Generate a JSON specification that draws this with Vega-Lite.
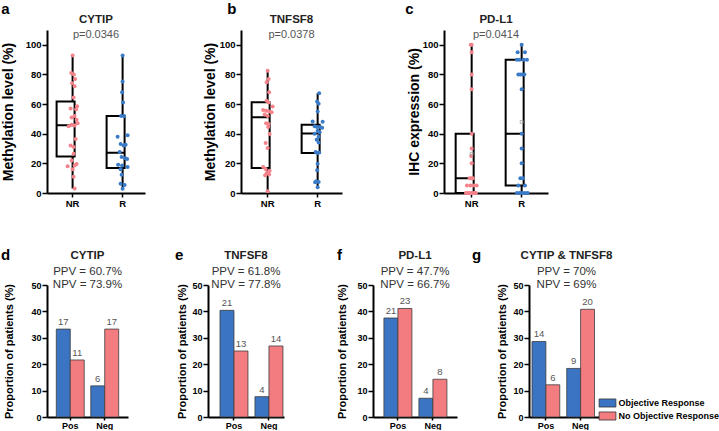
{
"$schema": "https://vega.github.io/schema/vega-lite/v6.json",
"padding": {"left": 0, "top": 2, "right": 0, "bottom": 0},
"background": "white",
"config": {
  "font": "Liberation Sans",
  "view": {"stroke": null},
  "axis": {"domainColor": "#000", "domainWidth": 2, "tickColor": "#000", "tickWidth": 1.5, "tickSize": 5, "labelFontWeight": "bold", "labelColor": "#000", "labelFontSize": 9.5, "labelPadding": 1, "titleFontWeight": "bold", "titleColor": "#000", "grid": false, "labelOverlap": false},
  "title": {"color": "#222"}
},
"datasets": {
  "a_pts": [
    {"group":"NR","v":92.8,"j":0},{"group":"NR","v":81,"j":-1.3},{"group":"NR","v":80,"j":1.3},{"group":"NR","v":77,"j":2.5},{"group":"NR","v":74,"j":-0.5},{"group":"NR","v":72,"j":2},{"group":"NR","v":64.5,"j":1},{"group":"NR","v":58.5,"j":4.5},{"group":"NR","v":57,"j":-2},{"group":"NR","v":56.5,"j":3.5},{"group":"NR","v":52,"j":2},{"group":"NR","v":51,"j":-1},{"group":"NR","v":49.5,"j":4},{"group":"NR","v":47,"j":5},{"group":"NR","v":46,"j":-1},{"group":"NR","v":45.5,"j":2},{"group":"NR","v":45,"j":-4},{"group":"NR","v":36.5,"j":3},{"group":"NR","v":32,"j":-2},{"group":"NR","v":31,"j":1},{"group":"NR","v":26.5,"j":1},{"group":"NR","v":22,"j":-1},{"group":"NR","v":19.5,"j":4},{"group":"NR","v":18.5,"j":2},{"group":"NR","v":18,"j":-5},{"group":"NR","v":16,"j":0},{"group":"NR","v":11,"j":1},{"group":"NR","v":3,"j":2},
    {"group":"R","v":92.8,"j":0},{"group":"R","v":75.3,"j":0},{"group":"R","v":68,"j":-0.5},{"group":"R","v":61,"j":0.5},{"group":"R","v":52,"j":-1.5},{"group":"R","v":52,"j":1.5},{"group":"R","v":38.9,"j":5},{"group":"R","v":38,"j":-5},{"group":"R","v":33,"j":-2},{"group":"R","v":32.5,"j":3},{"group":"R","v":32,"j":1},{"group":"R","v":27.6,"j":-3},{"group":"R","v":24.3,"j":-1},{"group":"R","v":23.5,"j":2.5},{"group":"R","v":23,"j":4.5},{"group":"R","v":19.1,"j":-4.5},{"group":"R","v":18.5,"j":-0.5},{"group":"R","v":17.5,"j":5},{"group":"R","v":16,"j":-2},{"group":"R","v":12.4,"j":-1},{"group":"R","v":6.3,"j":-2},{"group":"R","v":5.4,"j":2},{"group":"R","v":2.9,"j":0}
  ],
  "a_box": [
    {"group":"NR","lo":3,"q1":24.7,"med":45.8,"q3":61.8,"hi":92.8},
    {"group":"R","lo":2.9,"q1":16.9,"med":27.2,"q3":51.9,"hi":92.8}
  ],
  "b_pts": [
    {"group":"NR","v":82.5,"j":0},{"group":"NR","v":77,"j":1},{"group":"NR","v":74.8,"j":-1},{"group":"NR","v":68,"j":1.5},{"group":"NR","v":62.2,"j":-1},{"group":"NR","v":61,"j":1},{"group":"NR","v":58.4,"j":5},{"group":"NR","v":56,"j":-4.5},{"group":"NR","v":55.5,"j":-1.5},{"group":"NR","v":55,"j":1.5},{"group":"NR","v":54.5,"j":4},{"group":"NR","v":53,"j":-3},{"group":"NR","v":52,"j":0},{"group":"NR","v":47,"j":-1.5},{"group":"NR","v":46.5,"j":1},{"group":"NR","v":44.5,"j":0.5},{"group":"NR","v":39.8,"j":2},{"group":"NR","v":33.7,"j":-2},{"group":"NR","v":30.3,"j":0},{"group":"NR","v":17.5,"j":-4.5},{"group":"NR","v":16.2,"j":-2},{"group":"NR","v":15,"j":2},{"group":"NR","v":14,"j":0.5},{"group":"NR","v":13.5,"j":-1},{"group":"NR","v":12.5,"j":1.5},{"group":"NR","v":12,"j":-2.5},{"group":"NR","v":1.1,"j":0},
    {"group":"R","v":67.4,"j":1.5},{"group":"R","v":61.8,"j":-0.5},{"group":"R","v":60.2,"j":1},{"group":"R","v":55,"j":0},{"group":"R","v":48.3,"j":-5},{"group":"R","v":48,"j":5},{"group":"R","v":45,"j":-3},{"group":"R","v":44.5,"j":-0.5},{"group":"R","v":44.5,"j":2.5},{"group":"R","v":44,"j":4.5},{"group":"R","v":42,"j":0},{"group":"R","v":41,"j":2},{"group":"R","v":40,"j":-3},{"group":"R","v":38,"j":1},{"group":"R","v":36,"j":-1},{"group":"R","v":34,"j":1},{"group":"R","v":27.6,"j":-2},{"group":"R","v":27.3,"j":1.5},{"group":"R","v":27,"j":-0.5},{"group":"R","v":19.8,"j":0},{"group":"R","v":15.3,"j":-0.5},{"group":"R","v":7.9,"j":-1.5},{"group":"R","v":7.5,"j":1},{"group":"R","v":7.2,"j":-2.5},{"group":"R","v":3.8,"j":0}
  ],
  "b_box": [
    {"group":"NR","lo":1.1,"q1":16.9,"med":51.2,"q3":61.3,"hi":82.5},
    {"group":"R","lo":3.8,"q1":27,"med":40.2,"q3":46,"hi":67.4}
  ],
  "c_pts": [
    {"group":"NR","v":100,"j":0},{"group":"NR","v":100,"j":-1},{"group":"NR","v":95,"j":0},{"group":"NR","v":80,"j":0},{"group":"NR","v":70,"j":0},{"group":"NR","v":40,"j":0},{"group":"NR","v":30,"j":0},{"group":"NR","v":25,"j":-0.5},{"group":"NR","v":20,"j":0},{"group":"NR","v":10,"j":-2},{"group":"NR","v":10,"j":1.3},{"group":"NR","v":10,"j":0},{"group":"NR","v":5,"j":-4.7},{"group":"NR","v":5,"j":-1.3},{"group":"NR","v":5,"j":2},{"group":"NR","v":5,"j":5},{"group":"NR","v":0,"j":-5.7},{"group":"NR","v":0,"j":-2.3},{"group":"NR","v":0,"j":1},{"group":"NR","v":0,"j":4.3},{"group":"NR","v":0,"j":-4},{"group":"NR","v":0,"j":3},{"group":"NR","v":0,"j":0},
    {"group":"R","v":100,"j":0},{"group":"R","v":95,"j":-4},{"group":"R","v":95,"j":3.3},{"group":"R","v":90,"j":-4.7},{"group":"R","v":90,"j":-2},{"group":"R","v":90,"j":2},{"group":"R","v":90,"j":5.3},{"group":"R","v":80,"j":-3.3},{"group":"R","v":80,"j":-1.3},{"group":"R","v":80,"j":0.7},{"group":"R","v":80,"j":2.7},{"group":"R","v":70,"j":0},{"group":"R","v":40,"j":0},{"group":"R","v":30,"j":0},{"group":"R","v":20,"j":0},{"group":"R","v":10,"j":-1.3},{"group":"R","v":10,"j":1.3},{"group":"R","v":5,"j":-3.3},{"group":"R","v":5,"j":3.3},{"group":"R","v":0,"j":-4.7},{"group":"R","v":0,"j":-2},{"group":"R","v":0,"j":0.7},{"group":"R","v":0,"j":3.3},{"group":"R","v":0,"j":6}
  ],
  "c_box": [
    {"group":"NR","lo":0,"q1":0,"med":10,"q3":40,"hi":100,"mean":26.5},
    {"group":"R","lo":0,"q1":5,"med":40,"q3":90,"hi":100,"mean":48}
  ],
  "d_bar": [
    {"marker":"Pos","resp":"Objective Response","pct":33.3,"n":17},
    {"marker":"Pos","resp":"No Objective Response","pct":21.6,"n":11},
    {"marker":"Neg","resp":"Objective Response","pct":11.8,"n":6},
    {"marker":"Neg","resp":"No Objective Response","pct":33.3,"n":17}
  ],
  "e_bar": [
    {"marker":"Pos","resp":"Objective Response","pct":40.4,"n":21},
    {"marker":"Pos","resp":"No Objective Response","pct":25.0,"n":13},
    {"marker":"Neg","resp":"Objective Response","pct":7.7,"n":4},
    {"marker":"Neg","resp":"No Objective Response","pct":26.9,"n":14}
  ],
  "f_bar": [
    {"marker":"Pos","resp":"Objective Response","pct":37.5,"n":21},
    {"marker":"Pos","resp":"No Objective Response","pct":41.1,"n":23},
    {"marker":"Neg","resp":"Objective Response","pct":7.1,"n":4},
    {"marker":"Neg","resp":"No Objective Response","pct":14.3,"n":8}
  ],
  "g_bar": [
    {"marker":"Pos","resp":"Objective Response","pct":28.6,"n":14},
    {"marker":"Pos","resp":"No Objective Response","pct":12.2,"n":6},
    {"marker":"Neg","resp":"Objective Response","pct":18.4,"n":9},
    {"marker":"Neg","resp":"No Objective Response","pct":40.8,"n":20}
  ]
},
"resolve": {"scale": {"color": "independent", "x": "independent", "y": "independent", "xOffset": "independent"}, "legend": {"color": "independent"}},
"spacing": 40,
"vconcat": [
 {
  "spacing": 58,
  "resolve": {"scale": {"color": "independent", "x": "independent", "y": "independent", "xOffset": "independent"}, "legend": {"color": "independent"}},
  "hconcat": [
   {
    "title": {"text": "a", "anchor": "start", "frame": "bounds", "fontSize": 15, "fontWeight": "bold", "color": "#000", "offset": -3.5, "dx": 0},
    "resolve": {"scale": {"color": "independent", "x": "independent", "y": "independent", "xOffset": "independent"}, "legend": {"color": "independent"}},
    "vconcat": [
     {
      "width": 98, "height": 163,
      "title": {"text": "CYTIP", "subtitle": "p=0.0346", "fontSize": 11.5, "fontWeight": "bold", "subtitleFontSize": 11, "subtitleColor": "#555", "subtitlePadding": 4, "offset": -10, "anchor": "middle"},
      "layer": [
       {"data": {"name": "a_box"}, "mark": {"type": "rule", "color": "#000", "strokeWidth": 2},
        "encoding": {"x": {"field": "group", "type": "nominal", "sort": ["NR","R"], "title": null, "scale": {"paddingInner": 0.36, "paddingOuter": 0.16, "align": 0.6}, "axis": {"labelAngle": 0, "tickSize": 4}},
                     "y": {"field": "lo", "type": "quantitative", "title": "Methylation level (%)", "scale": {"domain": [0,110], "nice": false}, "axis": {"values": [0,20,40,60,80,100], "titleFontSize": 14, "titlePadding": 10}},
                     "y2": {"field": "hi"}}},
       {"data": {"name": "a_box"}, "mark": {"type": "bar", "fill": "white", "stroke": "#000", "strokeWidth": 2},
        "encoding": {"x": {"field": "group", "type": "nominal", "sort": ["NR","R"], "title": null, "axis": {"labelAngle": 0, "tickSize": 4}},
                     "y": {"field": "q3", "type": "quantitative", "title": "Methylation level (%)", "axis": {"values": [0,20,40,60,80,100], "titleFontSize": 14, "titlePadding": 10}}, "y2": {"field": "q1"}}},
       {"data": {"name": "a_box"}, "mark": {"type": "bar", "fill": null, "stroke": "#000", "strokeWidth": 2},
        "encoding": {"x": {"field": "group", "type": "nominal", "sort": ["NR","R"], "title": null, "axis": {"labelAngle": 0, "tickSize": 4}},
                     "y": {"field": "med", "type": "quantitative", "title": "Methylation level (%)", "axis": {"values": [0,20,40,60,80,100], "titleFontSize": 14, "titlePadding": 10}}, "y2": {"field": "med"}}},
       {"data": {"name": "a_pts"}, "mark": {"type": "circle", "size": 16, "opacity": 1},
        "encoding": {"x": {"field": "group", "type": "nominal", "sort": ["NR","R"], "title": null, "axis": {"labelAngle": 0, "tickSize": 4}},
                     "xOffset": {"field": "j", "type": "quantitative", "scale": {"domain": [-16,16], "range": [0,32]}},
                     "y": {"field": "v", "type": "quantitative", "title": "Methylation level (%)", "axis": {"values": [0,20,40,60,80,100], "titleFontSize": 14, "titlePadding": 10}},
                     "color": {"field": "group", "type": "nominal", "scale": {"domain": ["NR","R"], "range": ["#f4838b","#3a7bc8"]}, "legend": null}}}
      ]
     }
    ]
   },
   {
    "spacing": 63,
    "resolve": {"scale": {"color": "independent", "x": "independent", "y": "independent", "xOffset": "independent"}, "legend": {"color": "independent"}},
    "hconcat": [
     {
      "title": {"text": "b", "anchor": "start", "frame": "bounds", "fontSize": 15, "fontWeight": "bold", "color": "#000", "offset": -3.5, "dx": 24},
      "resolve": {"scale": {"color": "independent", "x": "independent", "y": "independent", "xOffset": "independent"}, "legend": {"color": "independent"}},
      "vconcat": [
       {
        "width": 101, "height": 163,
        "title": {"text": "TNFSF8", "subtitle": "p=0.0378", "fontSize": 11.5, "fontWeight": "bold", "subtitleFontSize": 11, "subtitleColor": "#555", "subtitlePadding": 4, "offset": -10, "anchor": "middle"},
        "layer": [
         {"data": {"name": "b_box"}, "mark": {"type": "rule", "color": "#000", "strokeWidth": 2},
          "encoding": {"x": {"field": "group", "type": "nominal", "sort": ["NR","R"], "title": null, "scale": {"paddingInner": 0.36, "paddingOuter": 0.19, "align": 0.56}, "axis": {"labelAngle": 0, "tickSize": 4}},
                       "y": {"field": "lo", "type": "quantitative", "title": "Methylation level (%)", "scale": {"domain": [0,110], "nice": false}, "axis": {"values": [0,20,40,60,80,100], "titleFontSize": 14, "titlePadding": 2}},
                       "y2": {"field": "hi"}}},
         {"data": {"name": "b_box"}, "mark": {"type": "bar", "fill": "white", "stroke": "#000", "strokeWidth": 2},
          "encoding": {"x": {"field": "group", "type": "nominal", "sort": ["NR","R"], "title": null, "axis": {"labelAngle": 0, "tickSize": 4}},
                       "y": {"field": "q3", "type": "quantitative", "title": "Methylation level (%)", "axis": {"values": [0,20,40,60,80,100], "titleFontSize": 14, "titlePadding": 2}}, "y2": {"field": "q1"}}},
         {"data": {"name": "b_box"}, "mark": {"type": "bar", "fill": null, "stroke": "#000", "strokeWidth": 2},
          "encoding": {"x": {"field": "group", "type": "nominal", "sort": ["NR","R"], "title": null, "axis": {"labelAngle": 0, "tickSize": 4}},
                       "y": {"field": "med", "type": "quantitative", "title": "Methylation level (%)", "axis": {"values": [0,20,40,60,80,100], "titleFontSize": 14, "titlePadding": 2}}, "y2": {"field": "med"}}},
         {"data": {"name": "b_pts"}, "mark": {"type": "circle", "size": 16, "opacity": 1},
          "encoding": {"x": {"field": "group", "type": "nominal", "sort": ["NR","R"], "title": null, "axis": {"labelAngle": 0, "tickSize": 4}},
                       "xOffset": {"field": "j", "type": "quantitative", "scale": {"domain": [-16,16], "range": [0,32]}},
                       "y": {"field": "v", "type": "quantitative", "title": "Methylation level (%)", "axis": {"values": [0,20,40,60,80,100], "titleFontSize": 14, "titlePadding": 2}},
                       "color": {"field": "group", "type": "nominal", "scale": {"domain": ["NR","R"], "range": ["#f4838b","#3a7bc8"]}, "legend": null}}}
        ]
       }
      ]
     },
     {
      "title": {"text": "c", "anchor": "start", "frame": "bounds", "fontSize": 15, "fontWeight": "bold", "color": "#000", "offset": -3.5, "dx": -2},
      "resolve": {"scale": {"color": "independent", "x": "independent", "y": "independent", "xOffset": "independent"}, "legend": {"color": "independent"}},
      "vconcat": [
       {
        "width": 104, "height": 163,
        "title": {"text": "PD-L1", "subtitle": "p=0.0414", "fontSize": 11.5, "fontWeight": "bold", "subtitleFontSize": 11, "subtitleColor": "#555", "subtitlePadding": 4, "offset": -10, "anchor": "middle"},
        "layer": [
         {"data": {"name": "c_box"}, "mark": {"type": "rule", "color": "#000", "strokeWidth": 2},
          "encoding": {"x": {"field": "group", "type": "nominal", "sort": ["NR","R"], "title": null, "scale": {"paddingInner": 0.36, "paddingOuter": 0.22, "align": 0.53}, "axis": {"labelAngle": 0, "tickSize": 4}},
                       "y": {"field": "lo", "type": "quantitative", "title": "IHC expression (%)", "scale": {"domain": [0,110], "nice": false}, "axis": {"values": [0,20,40,60,80,100], "titleFontSize": 14, "titlePadding": 1}},
                       "y2": {"field": "hi"}}},
         {"data": {"name": "c_box"}, "mark": {"type": "bar", "fill": "white", "stroke": "#000", "strokeWidth": 2},
          "encoding": {"x": {"field": "group", "type": "nominal", "sort": ["NR","R"], "title": null, "axis": {"labelAngle": 0, "tickSize": 4}},
                       "y": {"field": "q3", "type": "quantitative", "title": "IHC expression (%)", "axis": {"values": [0,20,40,60,80,100], "titleFontSize": 14, "titlePadding": 1}}, "y2": {"field": "q1"}}},
         {"data": {"name": "c_box"}, "mark": {"type": "bar", "fill": null, "stroke": "#000", "strokeWidth": 2},
          "encoding": {"x": {"field": "group", "type": "nominal", "sort": ["NR","R"], "title": null, "axis": {"labelAngle": 0, "tickSize": 4}},
                       "y": {"field": "med", "type": "quantitative", "title": "IHC expression (%)", "axis": {"values": [0,20,40,60,80,100], "titleFontSize": 14, "titlePadding": 1}}, "y2": {"field": "med"}}},
         {"data": {"name": "c_pts"}, "mark": {"type": "circle", "size": 16, "opacity": 1},
          "encoding": {"x": {"field": "group", "type": "nominal", "sort": ["NR","R"], "title": null, "axis": {"labelAngle": 0, "tickSize": 4}},
                       "xOffset": {"field": "j", "type": "quantitative", "scale": {"domain": [-16,16], "range": [0,32]}},
                       "y": {"field": "v", "type": "quantitative", "title": "IHC expression (%)", "axis": {"values": [0,20,40,60,80,100], "titleFontSize": 14, "titlePadding": 1}},
                       "color": {"field": "group", "type": "nominal", "scale": {"domain": ["NR","R"], "range": ["#f4838b","#3a7bc8"]}, "legend": null}}},
         {"data": {"name": "c_box"}, "mark": {"type": "point", "shape": "square", "size": 8, "filled": false, "color": "#a0a0a0", "strokeWidth": 0.8, "opacity": 1},
          "encoding": {"x": {"field": "group", "type": "nominal", "sort": ["NR","R"], "title": null, "axis": {"labelAngle": 0, "tickSize": 4}},
                       "y": {"field": "mean", "type": "quantitative", "title": "IHC expression (%)", "axis": {"values": [0,20,40,60,80,100], "titleFontSize": 14, "titlePadding": 1}}}}
        ]
       }
      ]
     }
    ]
   }
  ]
 },
 {
  "spacing": 46,
  "resolve": {"scale": {"color": "independent", "x": "independent", "y": "independent", "xOffset": "independent"}, "legend": {"color": "independent"}},
  "hconcat": [
   {
    "title": {"text": "d", "anchor": "start", "frame": "bounds", "fontSize": 15, "fontWeight": "bold", "color": "#000", "offset": -13, "dx": -3},
    "resolve": {"scale": {"color": "independent", "x": "independent", "y": "independent", "xOffset": "independent"}, "legend": {"color": "independent"}},
    "vconcat": [
     {
      "width": 81, "height": 132,
      "title": {"text": "CYTIP", "subtitle": ["PPV = 60.7%", "NPV = 73.9%"], "fontSize": 11.5, "fontWeight": "bold", "subtitleFontSize": 11.5, "subtitleColor": "#333", "subtitlePadding": 4.5, "subtitleLineHeight": 13.3, "offset": -10, "anchor": "middle"},
      "data": {"name": "d_bar"},
      "encoding": {
        "x": {"field": "marker", "type": "nominal", "sort": ["Pos","Neg"], "title": null, "scale": {"paddingInner": 0.19, "paddingOuter": 0.27, "align": 0.5}, "axis": {"labelAngle": 0, "labelFontSize": 9, "tickSize": 3}},
        "xOffset": {"field": "resp", "type": "nominal", "sort": ["Objective Response","No Objective Response"]},
        "y": {"field": "pct", "type": "quantitative", "title": "Proportion of patients (%)", "scale": {"domain": [0,50], "nice": false}, "axis": {"values": [0,10,20,30,40,50], "titleFontSize": 11, "titlePadding": 16, "labelFontSize": 9}}
      },
      "layer": [
        {"mark": {"type": "bar", "stroke": "#3d3d3d", "strokeWidth": 0.8}, "encoding": {"color": {"field": "resp", "type": "nominal", "scale": {"domain": ["Objective Response","No Objective Response"], "range": ["#3a74c2","#f27c80"]}, "legend": null}}},
        {"mark": {"type": "text", "baseline": "bottom", "dy": -2, "fontSize": 9.5, "color": "#555"}, "encoding": {"text": {"field": "n", "type": "quantitative"}}}
      ]
     }
    ]
   },
   {
    "spacing": 52,
    "resolve": {"scale": {"color": "independent", "x": "independent", "y": "independent", "xOffset": "independent"}, "legend": {"color": "independent"}},
    "hconcat": [
     {
      "title": {"text": "e", "anchor": "start", "frame": "bounds", "fontSize": 15, "fontWeight": "bold", "color": "#000", "offset": -13, "dx": -2},
      "resolve": {"scale": {"color": "independent", "x": "independent", "y": "independent", "xOffset": "independent"}, "legend": {"color": "independent"}},
      "vconcat": [
       {
        "width": 76, "height": 132,
        "title": {"text": "TNFSF8", "subtitle": ["PPV = 61.8%", "NPV = 77.8%"], "fontSize": 11.5, "fontWeight": "bold", "subtitleFontSize": 11.5, "subtitleColor": "#333", "subtitlePadding": 4.5, "subtitleLineHeight": 13.3, "offset": -10, "anchor": "middle"},
        "data": {"name": "e_bar"},
        "encoding": {
          "x": {"field": "marker", "type": "nominal", "sort": ["Pos","Neg"], "title": null, "scale": {"paddingInner": 0.2, "paddingOuter": 0.186, "align": 0.92}, "axis": {"labelAngle": 0, "labelFontSize": 9, "tickSize": 3}},
          "xOffset": {"field": "resp", "type": "nominal", "sort": ["Objective Response","No Objective Response"]},
          "y": {"field": "pct", "type": "quantitative", "title": "Proportion of patients (%)", "scale": {"domain": [0,50], "nice": false}, "axis": {"values": [0,10,20,30,40,50], "titleFontSize": 11, "titlePadding": 4, "labelFontSize": 9}}
        },
        "layer": [
          {"mark": {"type": "bar", "stroke": "#3d3d3d", "strokeWidth": 0.8}, "encoding": {"color": {"field": "resp", "type": "nominal", "scale": {"domain": ["Objective Response","No Objective Response"], "range": ["#3a74c2","#f27c80"]}, "legend": null}}},
          {"mark": {"type": "text", "baseline": "bottom", "dy": -2, "fontSize": 9.5, "color": "#555"}, "encoding": {"text": {"field": "n", "type": "quantitative"}}}
        ]
       }
      ]
     },
     {
      "spacing": 14,
      "resolve": {"scale": {"color": "independent", "x": "independent", "y": "independent", "xOffset": "independent"}, "legend": {"color": "independent"}},
      "hconcat": [
       {
        "title": {"text": "f", "anchor": "start", "frame": "bounds", "fontSize": 15, "fontWeight": "bold", "color": "#000", "offset": -13, "dx": 0},
        "resolve": {"scale": {"color": "independent", "x": "independent", "y": "independent", "xOffset": "independent"}, "legend": {"color": "independent"}},
        "vconcat": [
         {
          "width": 84, "height": 132,
          "title": {"text": "PD-L1", "subtitle": ["PPV = 47.7%", "NPV = 66.7%"], "fontSize": 11.5, "fontWeight": "bold", "subtitleFontSize": 11.5, "subtitleColor": "#333", "subtitlePadding": 4.5, "subtitleLineHeight": 13.3, "offset": -10, "anchor": "middle"},
          "data": {"name": "f_bar"},
          "encoding": {
            "x": {"field": "marker", "type": "nominal", "sort": ["Pos","Neg"], "title": null, "scale": {"paddingInner": 0.2, "paddingOuter": 0.3, "align": 0.52}, "axis": {"labelAngle": 0, "labelFontSize": 9, "tickSize": 3}},
            "xOffset": {"field": "resp", "type": "nominal", "sort": ["Objective Response","No Objective Response"]},
            "y": {"field": "pct", "type": "quantitative", "title": "Proportion of patients (%)", "scale": {"domain": [0,50], "nice": false}, "axis": {"values": [0,10,20,30,40,50], "titleFontSize": 11, "titlePadding": 9, "labelFontSize": 9}}
          },
          "layer": [
            {"mark": {"type": "bar", "stroke": "#3d3d3d", "strokeWidth": 0.8}, "encoding": {"color": {"field": "resp", "type": "nominal", "scale": {"domain": ["Objective Response","No Objective Response"], "range": ["#3a74c2","#f27c80"]}, "legend": null}}},
            {"mark": {"type": "text", "baseline": "bottom", "dy": -2, "fontSize": 9.5, "color": "#555"}, "encoding": {"text": {"field": "n", "type": "quantitative"}}}
          ]
         }
        ]
       },
       {
        "title": {"text": "g", "anchor": "start", "frame": "bounds", "fontSize": 15, "fontWeight": "bold", "color": "#000", "offset": -13, "dx": -25},
        "resolve": {"scale": {"color": "independent", "x": "independent", "y": "independent", "xOffset": "independent"}, "legend": {"color": "independent"}},
        "vconcat": [
         {
          "width": 75, "height": 132,
          "title": {"text": "CYTIP & TNFSF8", "subtitle": ["PPV = 70%", "NPV = 69%"], "fontSize": 11.5, "fontWeight": "bold", "subtitleFontSize": 11.5, "subtitleColor": "#333", "subtitlePadding": 4.5, "subtitleLineHeight": 13.3, "offset": -10, "anchor": "middle"},
          "data": {"name": "g_bar"},
          "encoding": {
            "x": {"field": "marker", "type": "nominal", "sort": ["Pos","Neg"], "title": null, "scale": {"paddingInner": 0.2, "paddingOuter": 0.18, "align": 0.24}, "axis": {"labelAngle": 0, "labelFontSize": 9, "tickSize": 3}},
            "xOffset": {"field": "resp", "type": "nominal", "sort": ["Objective Response","No Objective Response"]},
            "y": {"field": "pct", "type": "quantitative", "title": "Proportion of patients (%)", "scale": {"domain": [0,50], "nice": false}, "axis": {"values": [0,10,20,30,40,50], "titleFontSize": 11, "titlePadding": 5, "labelFontSize": 9}}
          },
          "layer": [
            {"mark": {"type": "bar", "stroke": "#3d3d3d", "strokeWidth": 0.8}, "encoding": {"color": {"field": "resp", "type": "nominal", "scale": {"domain": ["Objective Response","No Objective Response"], "range": ["#3a74c2","#f27c80"]},
              "legend": {"orient": "none", "legendX": 72, "legendY": 111.5, "title": null, "labelFontWeight": "bold", "labelFontSize": 9, "labelColor": "#000", "symbolType": "M-1.4,-0.67H1.4V0.67H-1.4Z", "symbolSize": 144, "symbolStrokeColor": "#333", "symbolStrokeWidth": 0.8, "symbolOpacity": 1, "rowPadding": 0, "labelOffset": 4.5}}}},
            {"mark": {"type": "text", "baseline": "bottom", "dy": -2, "fontSize": 9.5, "color": "#555"}, "encoding": {"text": {"field": "n", "type": "quantitative"}}}
          ]
         }
        ]
       }
      ]
     }
    ]
   }
  ]
 }
]
}
